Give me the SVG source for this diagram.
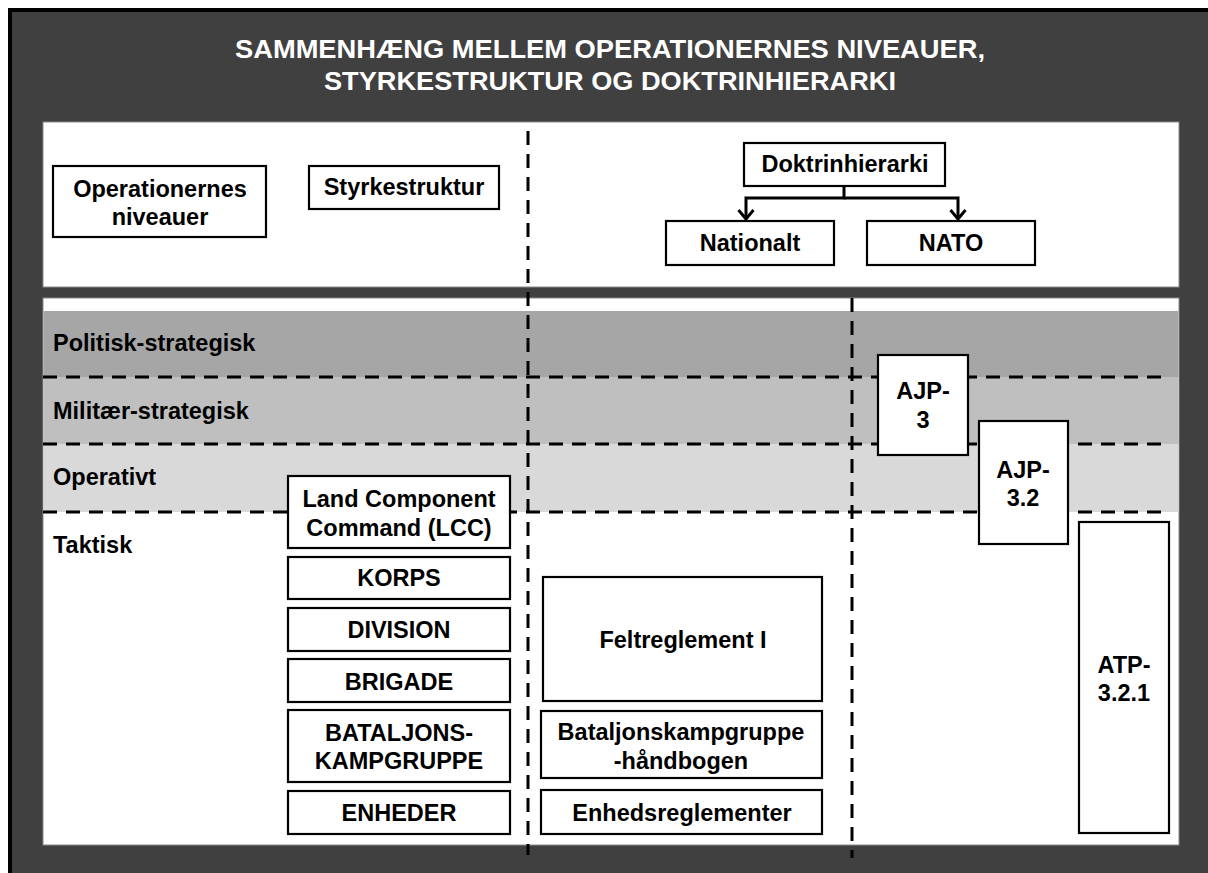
<svg xmlns="http://www.w3.org/2000/svg" width="1208" height="873" viewBox="0 0 1208 873">
<style>
text{font-family:"Liberation Sans",Arial,sans-serif;font-weight:bold;fill:#000;text-anchor:middle}
.t{font-size:23.5px}
.lbl{font-size:23.5px;text-anchor:start}
.title{font-size:25px;fill:#fff}
.box{fill:#fff;stroke:#000;stroke-width:2.2}
.dash{stroke:#000;stroke-width:3;stroke-dasharray:14 9;fill:none}
.conn{stroke:#000;stroke-width:3;fill:none}
</style>
<defs>
<marker id="chev" viewBox="0 0 12 18" refX="10" refY="9" markerWidth="12" markerHeight="18" markerUnits="userSpaceOnUse" orient="auto">
<path d="M1,1.5 L10,9 L1,16.5" fill="none" stroke="#000" stroke-width="3"/>
</marker>
</defs>
<rect x="0" y="0" width="1208" height="873" fill="#fff"/>
<rect x="8" y="8" width="1210" height="870" fill="#000"/>
<rect x="12" y="12" width="1206" height="866" fill="#404040"/>
<g id="title">
<text class="title" x="610" y="58" textLength="750" lengthAdjust="spacingAndGlyphs">SAMMENHÆNG MELLEM OPERATIONERNES NIVEAUER,</text>
<text class="title" x="610" y="90" textLength="572" lengthAdjust="spacingAndGlyphs">STYRKESTRUKTUR OG DOKTRINHIERARKI</text>
</g>
<g id="panels">
<rect x="43" y="122" width="1136" height="165" fill="#fff" stroke="#8a8a8a" stroke-width="1"/>
<rect x="43" y="298" width="1136" height="547" fill="#fff" stroke="#8a8a8a" stroke-width="1"/>
<rect x="43.5" y="311" width="1135" height="66" fill="#a6a6a6"/>
<rect x="43.5" y="377" width="1135" height="67" fill="#bfbfbf"/>
<rect x="43.5" y="444" width="1135" height="68" fill="#d9d9d9"/>
</g>
<g id="levels">
<text class="lbl" x="53" y="351">Politisk-strategisk</text>
<text class="lbl" x="53" y="419">Militær-strategisk</text>
<text class="lbl" x="53" y="485">Operativt</text>
<text class="lbl" x="53" y="553">Taktisk</text>
</g>
<g id="dividers">
<line class="dash" x1="43" y1="377" x2="1170" y2="377"/>
<line class="dash" x1="43" y1="444" x2="1170" y2="444"/>
<line class="dash" x1="43" y1="512" x2="1170" y2="512"/>
<line class="dash" x1="528" y1="131" x2="528" y2="855"/>
<line class="dash" x1="852" y1="298" x2="852" y2="858"/>
</g>
<g id="connectors">
<path class="conn" d="M844,186 V198 H746 V219" marker-end="url(#chev)"/>
<path class="conn" d="M844,198 H958 V219" marker-end="url(#chev)"/>
</g>
<g id="node-operationernes">
<rect class="box" x="53" y="166" width="213" height="71"/>
<text class="t" x="160" y="197">Operationernes</text>
<text class="t" x="160" y="225">niveauer</text>
</g>
<g id="node-styrkestruktur">
<rect class="box" x="309" y="166" width="190" height="43"/>
<text class="t" x="404" y="195">Styrkestruktur</text>
</g>
<g id="node-doktrinhierarki">
<rect class="box" x="744" y="143" width="201" height="43"/>
<text class="t" x="845" y="172">Doktrinhierarki</text>
</g>
<g id="node-nationalt">
<rect class="box" x="666" y="221" width="168" height="44"/>
<text class="t" x="750" y="251">Nationalt</text>
</g>
<g id="node-nato">
<rect class="box" x="867" y="221" width="168" height="44"/>
<text class="t" x="951" y="251">NATO</text>
</g>
<g id="node-lcc">
<rect class="box" x="288" y="476" width="222" height="72"/>
<text class="t" x="399" y="507">Land Component</text>
<text class="t" x="399" y="536">Command (LCC)</text>
</g>
<g id="node-korps">
<rect class="box" x="288" y="557" width="222" height="42"/>
<text class="t" x="399" y="586">KORPS</text>
</g>
<g id="node-division">
<rect class="box" x="288" y="608" width="222" height="43"/>
<text class="t" x="399" y="638">DIVISION</text>
</g>
<g id="node-brigade">
<rect class="box" x="288" y="659" width="222" height="43"/>
<text class="t" x="399" y="690">BRIGADE</text>
</g>
<g id="node-bataljonskampgruppe">
<rect class="box" x="288" y="710" width="222" height="72"/>
<text class="t" x="399" y="741">BATALJONS-</text>
<text class="t" x="399" y="769">KAMPGRUPPE</text>
</g>
<g id="node-enheder">
<rect class="box" x="288" y="791" width="222" height="43"/>
<text class="t" x="399" y="821">ENHEDER</text>
</g>
<g id="node-feltreglement">
<rect class="box" x="543" y="577" width="279" height="124"/>
<text class="t" x="683" y="648">Feltreglement I</text>
</g>
<g id="node-bkg-haandbog">
<rect class="box" x="541" y="711" width="281" height="67"/>
<text class="t" x="681" y="740">Bataljonskampgruppe</text>
<text class="t" x="681" y="769">-håndbogen</text>
</g>
<g id="node-enhedsreglementer">
<rect class="box" x="541" y="790" width="281" height="44"/>
<text class="t" x="682" y="821">Enhedsreglementer</text>
</g>
<g id="node-ajp3">
<rect class="box" x="878" y="355" width="90" height="100"/>
<text class="t" x="923" y="399">AJP-</text>
<text class="t" x="923" y="428">3</text>
</g>
<g id="node-ajp32">
<rect class="box" x="979" y="421" width="89" height="123"/>
<text class="t" x="1023" y="478">AJP-</text>
<text class="t" x="1023" y="506">3.2</text>
</g>
<g id="node-atp321">
<rect class="box" x="1079" y="522" width="90" height="311"/>
<text class="t" x="1124" y="673">ATP-</text>
<text class="t" x="1124" y="701">3.2.1</text>
</g>
</svg>
